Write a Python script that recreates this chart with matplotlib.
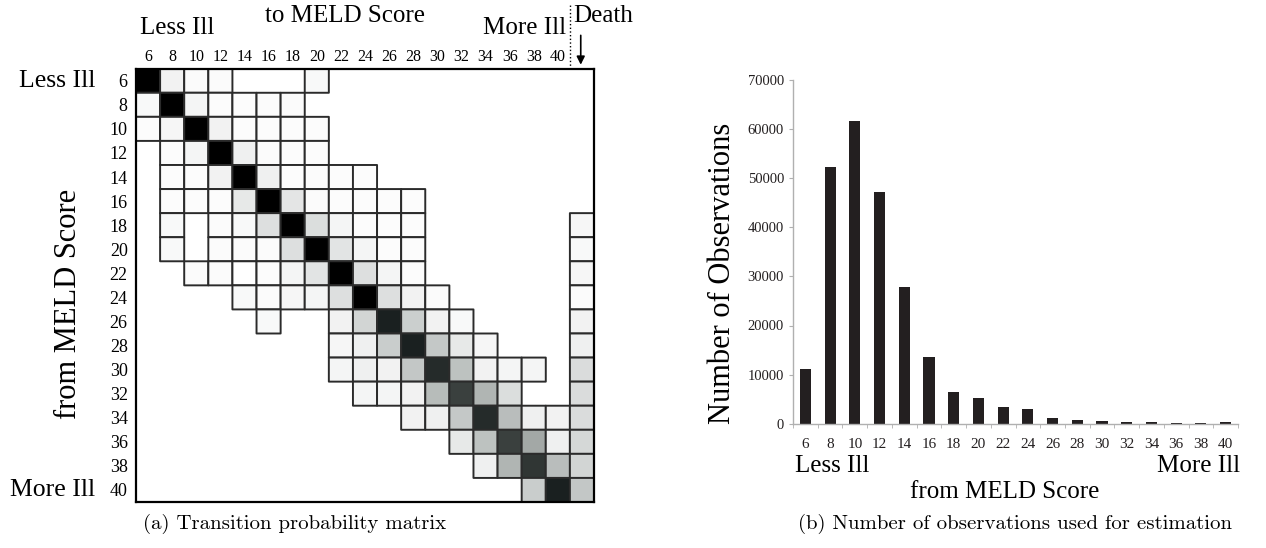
import numpy as np
import matplotlib
matplotlib.use("Agg")
import matplotlib.pyplot as plt
from matplotlib.colors import LinearSegmentedColormap

_ = np.nan

# MELD score classes (rows = from, columns = to + death)
meld = [6, 8, 10, 12, 14, 16, 18, 20, 22, 24, 26, 28, 30, 32, 34, 36, 38, 40]

# estimated transition probabilities, nan = cell not shown
trans = [
    [0.90, 0.04, 0.015, 0.015, _, _, _, 0.02, _, _, _, _, _, _, _, _, _, _, _],
    [0.02, 0.90, 0.035, 0.01, 0.01, 0.015, 0.015, _, _, _, _, _, _, _, _, _, _, _, _],
    [0.01, 0.03, 0.90, 0.04, 0.01, 0.01, 0.01, 0.01, _, _, _, _, _, _, _, _, _, _, _],
    [_, 0.01, 0.035, 0.90, 0.05, 0.015, 0.01, 0.01, _, _, _, _, _, _, _, _, _, _, _],
    [_, 0.01, 0.01, 0.04, 0.90, 0.05, 0.01, 0.015, 0.01, 0.01, _, _, _, _, _, _, _, _, _],
    [_, 0.01, 0.01, 0.01, 0.07, 0.90, 0.075, 0.015, 0.01, 0.01, 0.01, 0.01, _, _, _, _, _, _, _],
    [_, 0.02, _, 0.015, 0.02, 0.09, 0.88, 0.095, 0.035, 0.01, 0.01, 0.01, _, _, _, _, _, _, 0.03],
    [_, 0.02, _, 0.015, 0.015, 0.015, 0.09, 0.88, 0.08, 0.035, 0.01, 0.01, _, _, _, _, _, _, 0.02],
    [_, _, 0.015, 0.015, 0.003, 0.01, 0.035, 0.08, 0.88, 0.09, 0.035, 0.01, _, _, _, _, _, _, 0.03],
    [_, _, _, _, 0.02, 0.015, 0.03, 0.035, 0.09, 0.88, 0.09, 0.04, 0.015, _, _, _, _, _, 0.015],
    [_, _, _, _, _, 0.02, _, _, 0.04, 0.12, 0.65, 0.135, 0.04, 0.02, _, _, _, _, 0.04],
    [_, _, _, _, _, _, _, _, 0.03, 0.05, 0.14, 0.65, 0.15, 0.07, 0.03, _, _, _, 0.05],
    [_, _, _, _, _, _, _, _, 0.035, 0.05, 0.04, 0.155, 0.6, 0.18, 0.04, 0.035, 0.035, _, 0.1],
    [_, _, _, _, _, _, _, _, _, 0.035, 0.035, 0.04, 0.21, 0.5, 0.24, 0.095, _, _, 0.1],
    [_, _, _, _, _, _, _, _, _, _, _, 0.04, 0.05, 0.15, 0.6, 0.2, 0.05, 0.04, 0.1],
    [_, _, _, _, _, _, _, _, _, _, _, _, _, 0.07, 0.18, 0.5, 0.3, 0.05, 0.11],
    [_, _, _, _, _, _, _, _, _, _, _, _, _, _, 0.05, 0.24, 0.55, 0.2, 0.12],
    [_, _, _, _, _, _, _, _, _, _, _, _, _, _, _, _, 0.14, 0.65, 0.155],
]

# number of observations per starting MELD score
n_obs = [11200, 52200, 61600, 47100, 27800, 13500, 6500, 5300, 3450,
         3000, 1150, 750, 480, 350, 350, 200, 200, 280]

W, H = 1266, 548
plt.rcParams['font.family'] = ['Liberation Serif', 'DejaVu Serif']


def fx(x):
    return x / W


def fy(y):
    return 1 - y / H


fig = plt.figure(figsize=(W / 100, H / 100), dpi=100)

# ---- (a) transition matrix
cmap = LinearSegmentedColormap.from_list('meld', [
    (0.0, '#ffffff'), (0.05, '#eeefef'), (0.15, '#c4c8c7'), (0.3, '#a3a8a6'),
    (0.5, '#3a403e'), (0.65, '#1a2020'), (0.85, '#000000'), (1.0, '#000000')])

ax = fig.add_axes([fx(136), fy(502), fx(594) - fx(136), fy(68.7) - fy(502)])
data = np.ma.masked_invalid(np.array(trans))
ax.pcolor(np.arange(len(trans[0]) + 1), np.arange(len(trans) + 1), data,
          cmap=cmap, vmin=0, vmax=1, edgecolors='#2b2b2b', linewidth=1.4)
ax.set_xlim(0, len(trans[0]))
ax.set_ylim(len(trans), 0)
for s in ax.spines.values():
    s.set_linewidth(1.6)
    s.set_color('black')
ax.xaxis.tick_top()
ax.set_xticks(np.arange(len(meld)) + 0.5)
ax.set_xticklabels(meld, fontsize=11.5)
ax.set_yticks(np.arange(len(meld)) + 0.5)
ax.set_yticklabels(meld, fontsize=13)
ax.tick_params(length=0)
ax.tick_params(axis='x', pad=3)
ax.tick_params(axis='y', pad=6)

ax.plot([18, 18], [0, -2.7], ls=':', color='black', lw=1, clip_on=False)
ax.annotate('', xy=(18.45, -0.05), xytext=(18.45, -1.5),
            arrowprops=dict(arrowstyle='-|>', color='black', lw=1.2,
                            mutation_scale=12),
            annotation_clip=False)

fig.text(fx(140), fy(34), 'Less Ill', fontsize=18, va='baseline', ha='left')
fig.text(fx(345), fy(22), 'to MELD Score', fontsize=18, va='baseline', ha='center')
fig.text(fx(566), fy(34), 'More Ill', fontsize=18, va='baseline', ha='right')
fig.text(fx(573), fy(22), 'Death', fontsize=18, va='baseline', ha='left')
fig.text(fx(95), fy(81), 'Less Ill', fontsize=18.5, va='center', ha='right')
fig.text(fx(95), fy(490), 'More Ill', fontsize=18.5, va='center', ha='right')
fig.text(fx(68), fy(304), 'from MELD Score', fontsize=22, va='center',
         ha='center', rotation=90)
fig.text(fx(295), fy(524), '(a) Transition probability matrix', fontsize=15,
         va='center', ha='center', family=['cmr10', 'DejaVu Serif'])

# ---- (b) observation counts
bx = fig.add_axes([fx(793), fy(423.7), fx(1238) - fx(793), fy(80) - fy(423.7)])
pos = np.arange(len(meld))
bx.bar(pos, n_obs, width=0.45, color='#231f20')
bx.set_xlim(-0.5, len(meld) - 0.5)
bx.set_ylim(0, 70000)
bx.set_xticks(pos)
bx.set_xticklabels(meld, fontsize=11, color='#231f20')
bx.set_xticks(np.arange(len(meld) + 1) - 0.5, minor=True)
bx.tick_params(axis='x', which='major', length=0, pad=10)
bx.tick_params(axis='x', which='minor', length=3, color='#b0b0b0')
bx.set_yticks(np.arange(0, 70001, 10000))
bx.tick_params(axis='y', length=3, color='#b0b0b0', labelsize=10.5,
               labelcolor='#231f20')
for s in ['top', 'right']:
    bx.spines[s].set_visible(False)
for s in ['left', 'bottom']:
    bx.spines[s].set_color('#b0b0b0')
    bx.spines[s].set_linewidth(1)

fig.text(fx(722), fy(273), 'Number of Observations', fontsize=22, va='center',
         ha='center', rotation=90)
fig.text(fx(795), fy(466), 'Less Ill', fontsize=18, va='center', ha='left')
fig.text(fx(1240), fy(466), 'More Ill', fontsize=18, va='center', ha='right')
fig.text(fx(1005), fy(492), 'from MELD Score', fontsize=18, va='center', ha='center')
fig.text(fx(1015), fy(524), '(b) Number of observations used for estimation',
         fontsize=15, va='center', ha='center', family=['cmr10', 'DejaVu Serif'])

fig.savefig('out.png', dpi=100)
